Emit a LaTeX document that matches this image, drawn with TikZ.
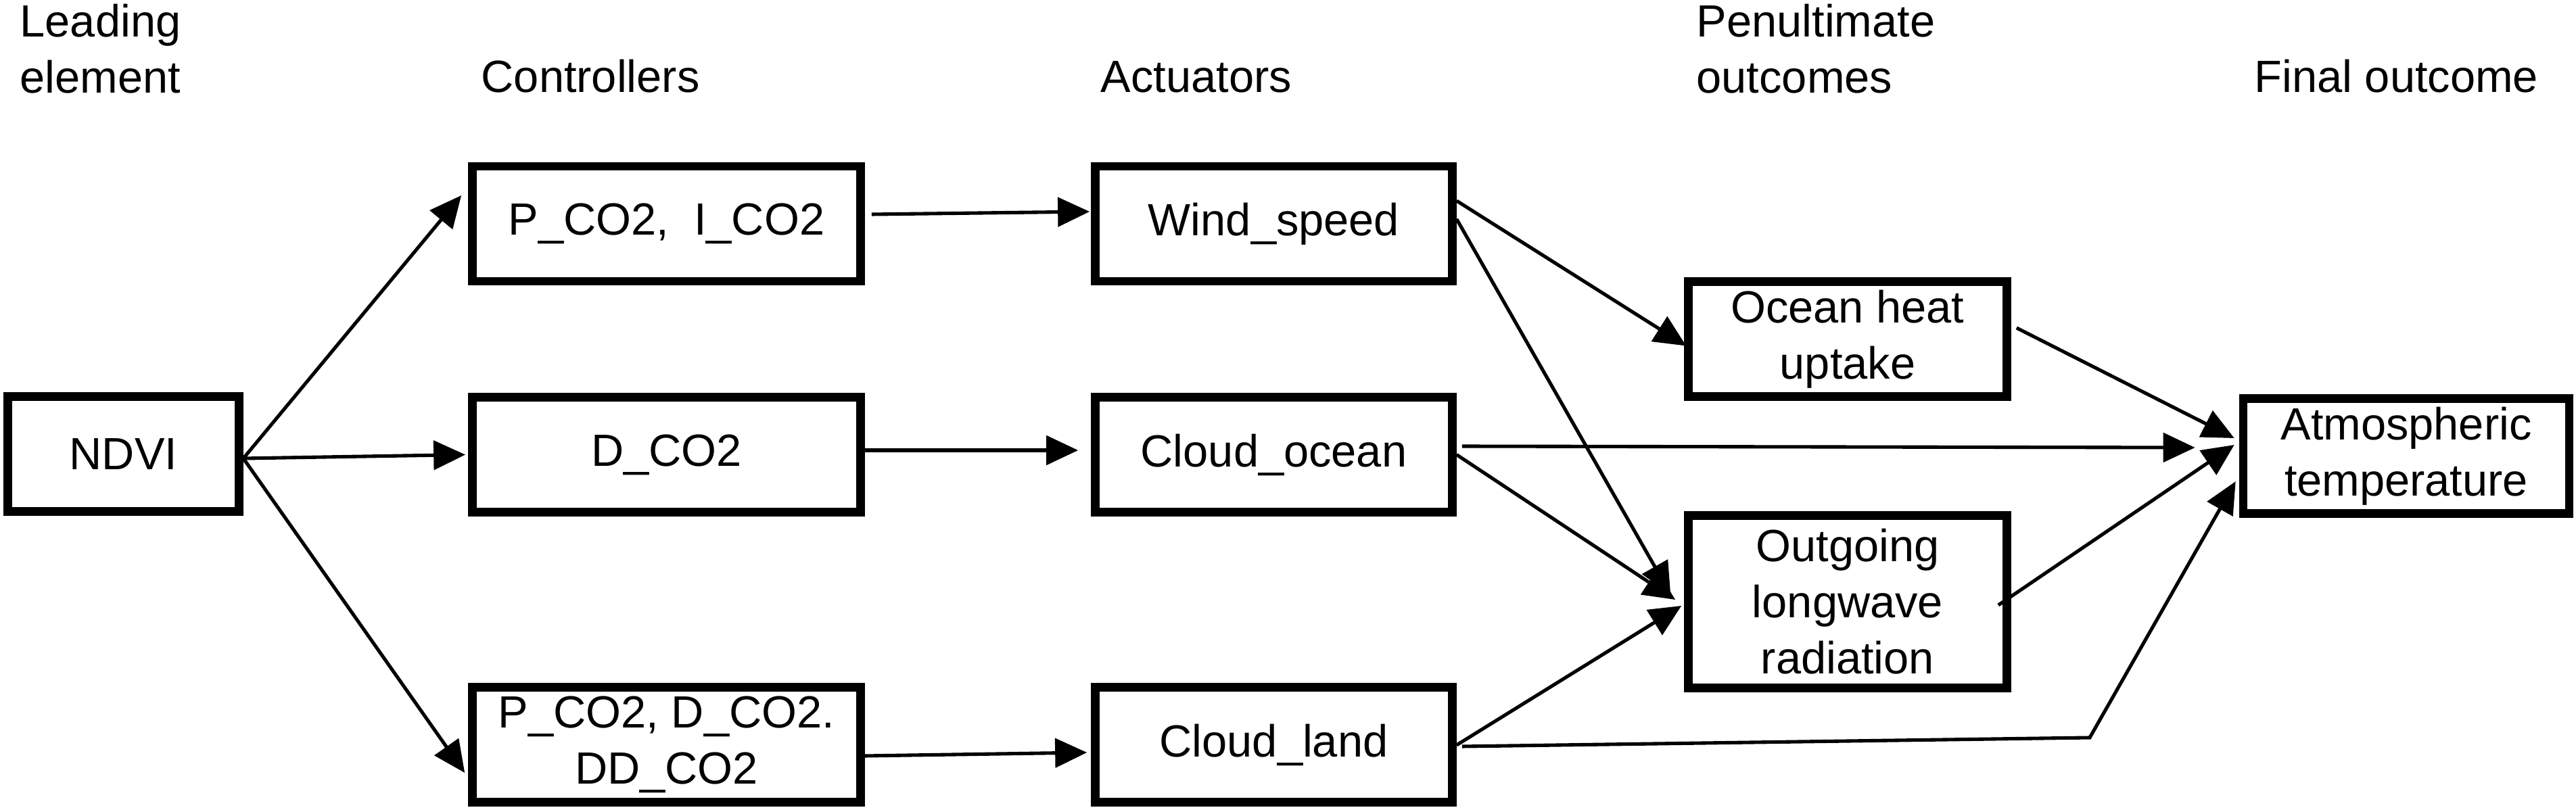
\documentclass[tikz,border=0pt]{standalone}
\usepackage{fontspec}
\setmainfont{Liberation Sans}
\usepackage{tikz}
\usetikzlibrary{arrows.meta,positioning}
\definecolor{cInk}{HTML}{000000}
\tikzset{
  vbox/.style={draw=cInk,line width=3.6pt,align=center,font=\fontsize{19}{23.6}\selectfont,inner sep=2pt,minimum width=#1,minimum height=1.70cm,text=cInk},
  vbox/.default=5.28cm,
  arr/.style={-{Triangle[length=0.47cm,width=0.43cm]},line width=1.45pt,color=cInk},
  hdr/.style={font=\fontsize{19}{23.6}\selectfont,align=left,inner sep=0pt,text=cInk},
}

\begin{document}
\begin{tikzpicture}[x=1cm,y=1cm]
  \useasboundingbox (0,0) rectangle (38.09,12);
  % column headers
  \node[hdr,anchor=north west] (hlead) at (0.29,11.95) {Leading\\element};
  \node[hdr,anchor=base west] (hctrl) at (7.11,10.63) {Controllers};
  \node[hdr,anchor=base west] (hact) at (16.27,10.63) {Actuators};
  \node[hdr,anchor=north west] (hpen) at (25.08,11.95) {Penultimate\\outcomes};
  \node[hdr,anchor=base west] (hfin) at (33.33,10.63) {Final outcome};
  % boxes
  \node[vbox=3.42cm] (ndvi) at (1.825,5.285) {NDVI};
  \node[vbox=5.74cm] (pi) at (9.855,8.69) {P\_CO2,\ \ I\_CO2};
  \node[vbox=5.74cm] (dc) at (9.855,5.275) {D\_CO2};
  \node[vbox=5.74cm] (pdd) at (9.855,0.985) {P\_CO2, D\_CO2.\\DD\_CO2};
  \node[vbox] (ws) at (18.835,8.69) {Wind\_speed};
  \node[vbox] (co) at (18.835,5.275) {Cloud\_ocean};
  \node[vbox] (cl) at (18.835,0.985) {Cloud\_land};
  \node[vbox=4.71cm] (ohu) at (27.32,6.985) {Ocean heat\\uptake};
  \node[vbox=4.71cm,minimum height=2.55cm] (olr) at (27.32,3.10) {Outgoing\\longwave\\radiation};
  \node[vbox=4.82cm] (atm) at (35.58,5.255) {Atmospheric\\temperature};
  \coordinate (bend) at (30.90,1.09);
  % leading element -> controllers
  \draw[arr] ([yshift=-0.065cm]ndvi.east) -- ([xshift=-0.10cm,yshift=0.42cm]pi.west);
  \draw[arr] ([yshift=-0.065cm]ndvi.east) -- ([xshift=-0.04cm]dc.west);
  \draw[arr] ([yshift=-0.065cm]ndvi.east) -- ([xshift=-0.05cm,yshift=-0.415cm]pdd.west);
  % controllers -> actuators
  \draw[arr] ([xshift=0.10cm,yshift=0.14cm]pi.east) -- ([xshift=-0.02cm,yshift=0.18cm]ws.west);
  \draw[arr] ([yshift=0.065cm]dc.east) -- ([xshift=-0.19cm,yshift=0.065cm]co.west);
  \draw[arr] ([yshift=-0.165cm]pdd.east) -- ([xshift=-0.06cm,yshift=-0.115cm]cl.west);
  % actuators -> outcomes
  \draw[arr] ([yshift=0.34cm]ws.east) -- ([xshift=0.03cm,yshift=-0.10cm]ohu.west);
  \draw[arr] ([yshift=0.07cm]ws.east) -- ([xshift=-0.20cm,yshift=0.11cm]olr.west);
  \draw[arr] (co.east) -- ([xshift=-0.13cm,yshift=0.03cm]olr.west);
  \draw[arr] ([xshift=0.08cm,yshift=0.125cm]co.east) -- ([xshift=-0.65cm,yshift=0.125cm]atm.west);
  \draw[arr] ([yshift=-0.005cm]cl.east) -- ([xshift=-0.04cm,yshift=-0.06cm]olr.west);
  \draw[arr] ([xshift=0.08cm,yshift=-0.025cm]cl.east) -- (bend) -- ([xshift=-0.05cm,yshift=-0.375cm]atm.west);
  % penultimate -> final
  \draw[arr] ([xshift=0.08cm,yshift=0.165cm]ohu.east) -- ([xshift=-0.07cm,yshift=0.265cm]atm.west);
  \draw[arr] ([xshift=-0.19cm,yshift=-0.05cm]olr.east) -- ([xshift=-0.07cm,yshift=0.165cm]atm.west);
\end{tikzpicture}
\end{document}
